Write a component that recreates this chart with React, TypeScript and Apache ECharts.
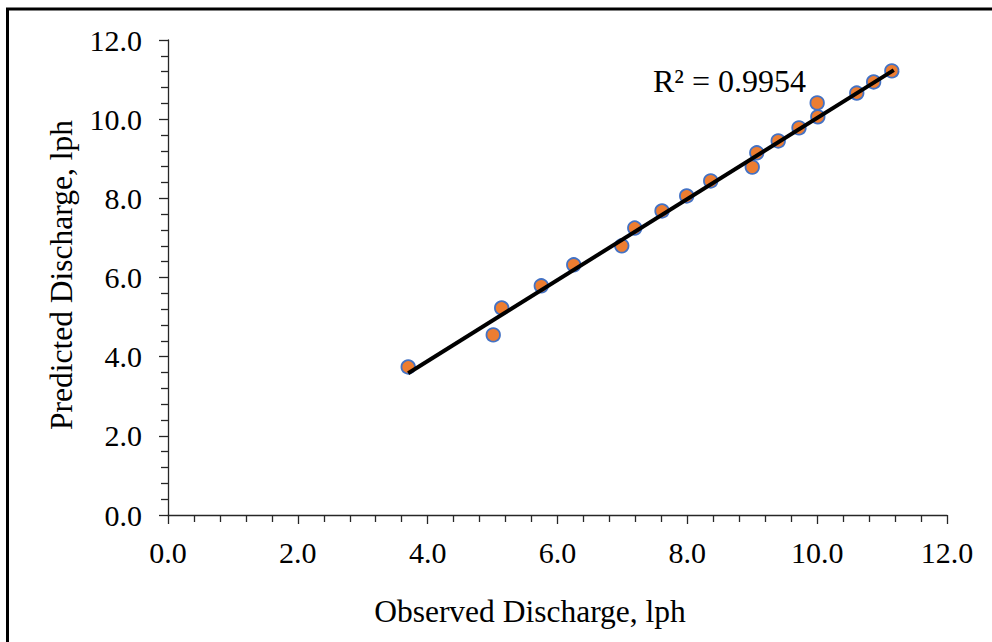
import React, { useEffect, useRef } from "react";
import * as echarts from "echarts";

const observed = [3.70, 5.01, 5.14, 5.75, 6.25, 6.99, 7.19, 7.61, 7.99, 8.36, 9.00, 9.07, 9.40, 9.72, 10.00, 10.01, 10.61, 10.87, 11.15];
const predicted = [3.74, 4.55, 5.23, 5.79, 6.32, 6.80, 7.25, 7.68, 8.06, 8.44, 8.79, 9.15, 9.45, 9.78, 10.41, 10.06, 10.66, 10.94, 11.22];
const trendX = [3.70, 11.18];
const trendY = [3.58, 11.24];
const xTitle = "Observed Discharge, lph";
const yTitle = "Predicted Discharge, lph";
const r2Label = "R² = 0.9954";

const FONT = "'Liberation Serif', 'Times New Roman', serif";

export default function App() {
  const ref = useRef<HTMLDivElement>(null);
  useEffect(() => {
    document.body.style.margin = "0";
    document.body.style.overflow = "hidden";
    const chart = echarts.init(ref.current!, undefined, { renderer: "svg" });
    const axisCommon = {
      type: "value" as const,
      min: 0,
      max: 12,
      interval: 2,
      splitLine: { show: false },
      axisLine: { show: true, lineStyle: { color: "#262626", width: 1.3 } },
      axisTick: { show: true, length: 9, lineStyle: { color: "#262626", width: 1.3 } },
      minorTick: { show: true, splitNumber: 5, length: 7, lineStyle: { color: "#262626", width: 1.3 } },
      axisLabel: {
        formatter: (v: number) => v.toFixed(1),
        fontFamily: FONT,
        fontSize: 30,
        color: "#000",
        lineHeight: 30,
      },
    };
    chart.setOption({
      animation: false,
      backgroundColor: "#fff",
      grid: { left: 168, right: 45, top: 40, bottom: 127, containLabel: false },
      xAxis: { ...axisCommon, axisLabel: { ...axisCommon.axisLabel, margin: 22 } },
      yAxis: { ...axisCommon, axisLabel: { ...axisCommon.axisLabel, margin: 26 } },
      series: [
        {
          type: "scatter",
          data: observed.map((x, i) => [x, predicted[i]]),
          symbol: "circle",
          symbolSize: 13.5,
          itemStyle: { color: "#ED7D31", borderColor: "#4472C4", borderWidth: 1.8, opacity: 1 },
          z: 2,
        },
        {
          type: "line",
          data: trendX.map((x, i) => [x, trendY[i]]),
          showSymbol: false,
          symbol: "none",
          lineStyle: { color: "#000", width: 4 },
          z: 3,
        },
      ],
      graphic: [
        {
          type: "rect",
          shape: { x: 7.5, y: 9, width: 1100, height: 1000 },
          style: { fill: "none", stroke: "#000", lineWidth: 3 },
          silent: true,
        },
        {
          type: "text",
          x: 530,
          y: 611,
          style: { text: xTitle, font: `31.5px ${FONT}`, fill: "#000", textAlign: "center", textVerticalAlign: "middle" },
        },
        {
          type: "text",
          x: 61,
          y: 275,
          rotation: Math.PI / 2,
          style: { text: yTitle, font: `31.5px ${FONT}`, fill: "#000", textAlign: "center", textVerticalAlign: "middle" },
        },
        {
          type: "text",
          x: 653,
          y: 81,
          style: { text: r2Label, font: `32px ${FONT}`, fill: "#000", textAlign: "left", textVerticalAlign: "middle" },
        },
      ],
    });
    return () => chart.dispose();
  }, []);
  return <div ref={ref} style={{ width: 992, height: 642 }} />;
}
